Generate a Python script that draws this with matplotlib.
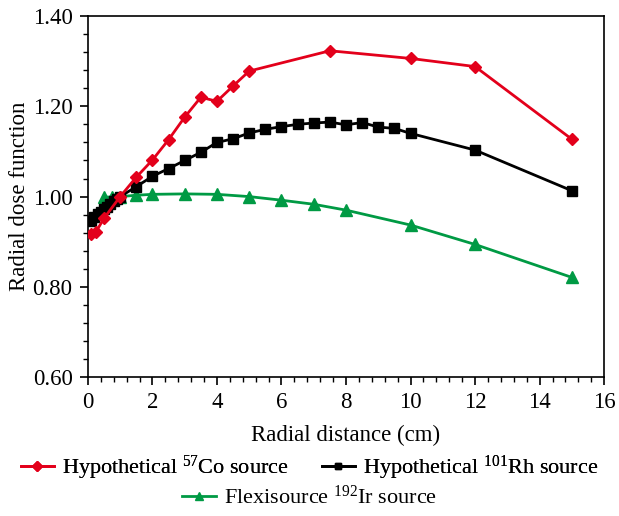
import matplotlib
matplotlib.use("Agg")
import matplotlib.pyplot as plt
from matplotlib.ticker import MultipleLocator, AutoMinorLocator, FormatStrFormatter
from matplotlib.lines import Line2D

# Hypothetical 57Co source
co_r = [0.1, 0.25, 0.5, 1.0, 1.5, 2.0, 2.5, 3.0, 3.5, 4.0, 4.5, 5.0, 7.5, 10.0, 12.0, 15.0]
co_g = [0.918, 0.922, 0.952, 1.000, 1.043, 1.081, 1.126, 1.176, 1.220, 1.211, 1.245, 1.278, 1.323, 1.306, 1.288, 1.127]

# Hypothetical 101Rh source
rh_r = [0.1, 0.2, 0.3, 0.4, 0.5, 0.6, 0.7, 0.8, 0.9, 1.0, 1.5, 2.0, 2.5, 3.0, 3.5, 4.0,
        4.5, 5.0, 5.5, 6.0, 6.5, 7.0, 7.5, 8.0, 8.5, 9.0, 9.5, 10.0, 12.0, 15.0]
rh_g = [0.946, 0.955, 0.961, 0.966, 0.972, 0.978, 0.984, 0.990, 0.995, 1.000, 1.022, 1.045,
        1.062, 1.080, 1.098, 1.120, 1.128, 1.141, 1.149, 1.155, 1.160, 1.163, 1.165, 1.159,
        1.164, 1.154, 1.151, 1.140, 1.103, 1.013]

# Flexisource 192Ir source
ir_r = [0.5, 0.75, 1.0, 1.5, 2.0, 3.0, 4.0, 5.0, 6.0, 7.0, 8.0, 10.0, 12.0, 15.0]
ir_g = [0.999, 0.999, 1.000, 1.003, 1.005, 1.006, 1.005, 1.000, 0.992, 0.983, 0.970, 0.937, 0.894, 0.821]

labels = ["Hypothetical $^{57}$Co source", "Hypothetical $^{101}$Rh source",
          "Flexisource $^{192}$Ir source"]

RED = "#e3001b"
GREEN = "#009a44"
BLACK = "#000000"

plt.rcParams["font.family"] = ["Liberation Serif", "DejaVu Serif"]
plt.rcParams["mathtext.fontset"] = "custom"
plt.rcParams["mathtext.rm"] = "Liberation Serif"
plt.rcParams["mathtext.it"] = "Liberation Serif:italic"
plt.rcParams["mathtext.bf"] = "Liberation Serif:bold"

fig = plt.figure(figsize=(6.19, 5.16), dpi=100)
ax = fig.add_axes([0.142, 0.269, 0.834, 0.700])

ax.plot(co_r, co_g, color=RED, lw=2, marker="D", ms=6.5, zorder=3)
ax.plot(rh_r, rh_g, color=BLACK, lw=2, marker="s", ms=7, zorder=2)
ax.plot(ir_r, ir_g, color=GREEN, lw=2, marker="^", ms=8, zorder=1)

ax.set_xlim(0, 16)
ax.set_ylim(0.60, 1.40)
ax.xaxis.set_major_locator(MultipleLocator(2))
ax.xaxis.set_minor_locator(AutoMinorLocator(5))
ax.yaxis.set_major_locator(MultipleLocator(0.2))
ax.yaxis.set_minor_locator(AutoMinorLocator(5))
ax.yaxis.set_major_formatter(FormatStrFormatter("%.2f"))
ax.tick_params(which="major", direction="out", length=6, width=1.2, labelsize=16.5, pad=5)
ax.tick_params(which="minor", direction="out", length=3.5, width=1)
for s in ax.spines.values():
    s.set_linewidth(1.2)

ax.set_xlabel("Radial distance (cm)", fontsize=16.5, labelpad=8)
ax.set_ylabel("Radial dose function", fontsize=16.5, labelpad=2)

h_co = Line2D([], [], color=RED, lw=2, marker="D", ms=5)
h_rh = Line2D([], [], color=BLACK, lw=2, marker="s", ms=5)
h_ir = Line2D([], [], color=GREEN, lw=2, marker="^", ms=6)

leg1 = fig.legend([h_co, h_rh], labels[:2],
                  loc="center", bbox_to_anchor=(0.5, 0.094), ncol=2, frameon=False,
                  fontsize=16, handlelength=1.5, handletextpad=0.35, columnspacing=1.5)
fig.legend([h_ir], labels[2:],
           loc="center", bbox_to_anchor=(0.5, 0.036), frameon=False,
           fontsize=16, handlelength=1.5, handletextpad=0.35)
fig.add_artist(leg1)

fig.savefig("out.png", dpi=100)
